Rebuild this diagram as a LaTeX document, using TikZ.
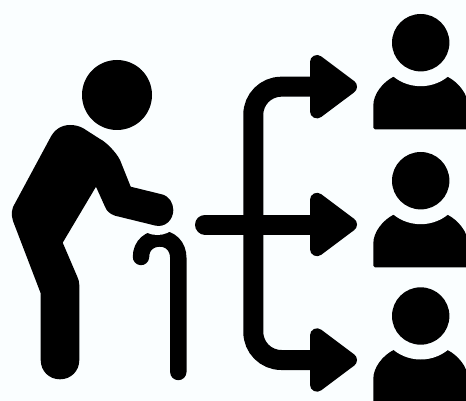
\documentclass[tikz,border=0pt]{standalone}
\usepackage{xcolor}
\usetikzlibrary{positioning}
\definecolor{paper}{HTML}{FAFEFF}

\begin{document}
\begin{tikzpicture}[
    x=1pt, y=-1pt,
    disc/.style={circle, fill=black, inner sep=0pt},
    gap/.style={circle, fill=paper, inner sep=0pt, minimum size=87pt},
    head/.style={disc, minimum size=57.4pt},
    torso/.style={fill=black, rounded corners=1.5pt},
    stem/.style={line width=20pt, line cap=round},
    tip/.style={fill=black, draw=black, line width=14pt, line join=round},
    cane/.style={line width=16.4pt, line cap=round},
  ]

  \useasboundingbox (0,0) rectangle (466,401);
  \clip (0,0) rectangle (466,401);
  \fill[paper] (0,0) rectangle (466,401);

  % ============ Old man ============
  \node[disc, minimum size=70pt] (oldhead) at (117,95) {};

  \draw[cane] (178.3,372) -- (178.3,258)
    .. controls (178.3,246) and (170,238.5) .. (160,238.5)
    .. controls (150,238.5) and (141,245) .. (141,257);
  \node[gap, minimum size=50pt] (handgap) at (157.3,210) {};

  \fill (50,138.3) .. controls (54,130) and (61,125) .. (70,125)
    .. controls (75,125) and (79,126) .. (83.3,128.3)
    -- (100,139) .. controls (106,142) and (116,152) .. (120,160)
    -- (130.7,186.7) -- (161.7,194.3)
    .. controls (169,196) and (173.3,203) .. (173.3,210)
    .. controls (173.3,220) and (165,228) .. (155,225.5)
    -- (115,215.7) .. controls (110,214) and (106.5,211) .. (105,206.7)
    -- (96,186.7) -- (62.7,242.7) -- (77,276)
    .. controls (78.5,279) and (79.3,282) .. (79.3,285)
    -- (79.3,360) .. controls (79.3,371) and (71,379.3) .. (60,379.3)
    .. controls (49,379.3) and (40.7,371) .. (40.7,360)
    -- (40.7,293.3) -- (13,221)
    .. controls (11,215) and (11.5,208) .. (15,203.3) -- cycle;

  % ============ Arrows ============
  \coordinate (src) at (205,224.5);
  \coordinate (tipA) at (310,86.7);
  \coordinate (tipB) at (310,224.5);
  \coordinate (tipC) at (310,360);

  \draw[stem] (src) -- (tipB);
  \draw[stem, line cap=butt, rounded corners=28pt]
    (tipA) -- (253.3,86.7) -- (253.3,360) -- (tipC);

  \filldraw[tip] (tipA) ++(7,-24.7) -- ++(0,49.4) -- ++(33,-24.7) -- cycle;
  \filldraw[tip] (tipB) ++(7,-24.7) -- ++(0,49.4) -- ++(33,-24.7) -- cycle;
  \filldraw[tip] (tipC) ++(7,-24.7) -- ++(0,49.4) -- ++(33,-24.7) -- cycle;

  % ============ People ============
  \fill[torso] (373.3,129.3) -- (373.3,107)
    .. controls (373.3,94) and (383,82) .. (395,76) -- (446,76)
    .. controls (458,82) and (468,94) .. (468,107) -- (468,129.3) -- cycle;
  \node[gap] (gapA) at (420.7,42.7) {};
  \node[head] (headA) at (420.7,42.7) {};

  \fill[torso] (373.3,267.3) -- (373.3,245)
    .. controls (373.3,232) and (383,220) .. (395,214) -- (446,214)
    .. controls (458,220) and (468,232) .. (468,245) -- (468,267.3) -- cycle;
  \node[gap] (gapB) at (420.7,180.7) {};
  \node[head] (headB) at (420.7,180.7) {};

  \fill[torso] (373.3,405) -- (373.3,380.3)
    .. controls (373.3,367.3) and (383,355.3) .. (395,349.3) -- (446,349.3)
    .. controls (458,355.3) and (468,367.3) .. (468,380.3) -- (468,405) -- cycle;
  \node[gap] (gapC) at (420.7,316) {};
  \node[head] (headC) at (420.7,316) {};

\end{tikzpicture}
\end{document}
